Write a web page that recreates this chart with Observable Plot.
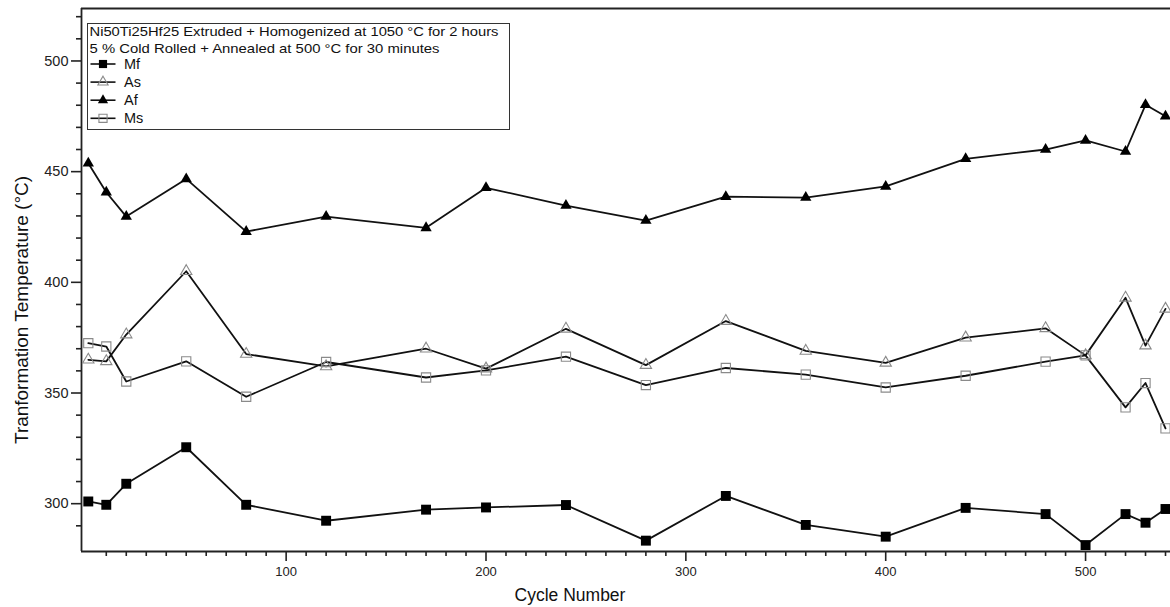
<!DOCTYPE html>
<html><head><meta charset="utf-8">
<script src="https://cdn.jsdelivr.net/npm/d3@7"></script>
<script src="https://cdn.jsdelivr.net/npm/@observablehq/plot@0.6"></script>
<style>
html,body{margin:0;padding:0;background:#fff;overflow:hidden}
svg{display:block}
</style>
</head><body><div id="chart"></div>
<script>
// ---- data ----
const cycles = [1,10,20,50,80,120,170,200,240,280,320,360,400,440,480,500,520,530,540];
const mf = [301,299.5,309,325.5,299.5,292.3,297.3,298.3,299.4,283.3,303.5,290.4,285.1,298.1,295.3,281.3,295.3,291.4,297.6];
const as = [365,364.3,376.4,405,367.6,362,370,361,379,362.6,382.5,369,363.6,375,379.2,367,393,371.4,388];
const af = [453.8,440.7,429.7,446.7,422.9,429.7,424.6,442.7,434.7,427.9,438.7,438.3,443.3,455.8,460,464.1,459.1,480.2,475];
const ms = [372.5,371,355.2,364.3,348.3,364,357,360.2,366.4,353.6,361.3,358.3,352.5,357.8,364.2,367,343.5,354.5,334];
const seriesNames = ["Mf","As","Af","Ms"];
const titleLines = ["Ni50Ti25Hf25 Extruded + Homogenized at 1050 °C for 2 hours",
                    "5 % Cold Rolled + Annealed at 500 °C for 30 minutes"];
const xMajor = [100,200,300,400,500];
const xMinor = d3.range(10,541,10).filter(v => v % 100 !== 0);
const yMajor = [300,350,400,450,500];
const yMinor = d3.range(290,521,10).filter(v => v % 50 !== 0);
const xLabel = "Cycle Number";
const yLabel = "Tranformation Temperature (°C)";

const xDomain = [-2.4, 542.5];
const yDomain = [278.4, 523.7];

const table = (vals, name) => cycles.map((c,i) => ({cycle:c, t:vals[i], s:name}));
const dMf = table(mf,"Mf"), dAs = table(as,"As"), dAf = table(af,"Af"), dMs = table(ms,"Ms");

const FONT = "Liberation Sans, Arial, Helvetica, sans-serif";
const lineOpts = {x:"cycle", y:"t", stroke:"#111", strokeWidth:1.8, clip:true};

const plot = Plot.plot({
  width: 1170, height: 607,
  marginLeft: 81, marginRight: 0, marginTop: 8, marginBottom: 56,
  x: {domain: xDomain},
  y: {domain: yDomain},
  style: {fontFamily: FONT, background: "#fff", color: "#222"},
  marks: [
    Plot.axisX({ticks: xMajor, tickSize: 10, tickPadding: 5, label: null, strokeWidth: 1.6}),
    Plot.axisX({ticks: xMinor, tickSize: 5, text: null, label: null, strokeWidth: 1.6}),
    Plot.axisY({ticks: yMajor, tickSize: 10, tickPadding: 3, label: null, strokeWidth: 1.6}),
    Plot.axisY({ticks: yMinor, tickSize: 5, text: null, label: null, strokeWidth: 1.6}),
    Plot.ruleX([xDomain[0]], {stroke:"#222", strokeWidth:1.8}),
    Plot.ruleY([yDomain[0]], {stroke:"#222", strokeWidth:1.8}),
    Plot.ruleY([yDomain[1]], {stroke:"#222", strokeWidth:1.8}),
    Plot.line(dAf, lineOpts),
    Plot.line(dAs, lineOpts),
    Plot.line(dMs, lineOpts),
    Plot.line(dMf, lineOpts),
    Plot.dot(dAs, {x:"cycle", y:"t", symbol:"triangle", r:4.2, fill:"none", stroke:"#8a8a8a", strokeWidth:1.1}),
    Plot.dot(dMs, {x:"cycle", y:"t", symbol:"square", r:5.2, fill:"none", stroke:"#8a8a8a", strokeWidth:1.1}),
    Plot.dot(dAf, {x:"cycle", y:"t", symbol:"triangle", r:4.2, fill:"#000", stroke:"none"}),
    Plot.dot(dMf, {x:"cycle", y:"t", symbol:"square", r:5.6, fill:"#000", stroke:"none"})
  ]
});
document.getElementById("chart").appendChild(plot);

const svg = d3.select(plot);
// tick label sizes (all texts Plot produced are tick labels here)
svg.selectAll("text").each(function() {
  const anchor = this.getAttribute("text-anchor") ||
    (this.parentNode && this.parentNode.getAttribute && this.parentNode.getAttribute("text-anchor"));
  const isY = anchor === "end";
  this.style.fontSize = isY ? "14.5px" : "13px";
  this.style.fill = "#222";
});

// ---- axis titles and legend box ----
svg.append("text").attr("x", 570).attr("y", 601).attr("text-anchor","middle")
  .attr("font-size", 17.5).attr("font-family", FONT).attr("fill","#111").text(xLabel);
svg.append("text").attr("transform","translate(28,310) rotate(-90)").attr("text-anchor","middle")
  .attr("font-size", 17.5).attr("font-family", FONT).attr("fill","#111")
  .attr("textLength", 268).attr("lengthAdjust","spacingAndGlyphs").text(yLabel);

const lg = svg.append("g").attr("font-family", FONT).attr("font-size", 13.2)
  .attr("fill","#111").attr("text-anchor","start");
lg.append("rect").attr("x",87.5).attr("y",23.5).attr("width",422).attr("height",106)
  .attr("fill","#fff").attr("stroke","#333").attr("stroke-width",1);
const titleWidths = [409, 350];
titleLines.forEach((t,i) => lg.append("text").attr("text-anchor","start")
  .attr("x",89.5).attr("y",36 + i*17)
  .attr("textLength", titleWidths[i]).attr("lengthAdjust","spacingAndGlyphs").text(t));
const legendStyle = {
  Mf: {type: d3.symbolSquare, r:4.6, fill:"#000", stroke:"none"},
  As: {type: d3.symbolTriangle, r:3.8, fill:"none", stroke:"#8a8a8a"},
  Af: {type: d3.symbolTriangle, r:3.8, fill:"#000", stroke:"none"},
  Ms: {type: d3.symbolSquare, r:4.6, fill:"none", stroke:"#8a8a8a"}
};
seriesNames.forEach((n,i) => {
  const cy = 64 + i*18.1;
  lg.append("line").attr("x1",90.5).attr("x2",115.5).attr("y1",cy).attr("y2",cy)
    .attr("stroke","#111").attr("stroke-width",1.6);
  const st = legendStyle[n];
  lg.append("path").attr("transform",`translate(103,${cy})`)
    .attr("d", d3.symbol(st.type, Math.PI*st.r*st.r)())
    .attr("fill", st.fill).attr("stroke", st.stroke).attr("stroke-width",1.1);
  lg.append("text").attr("text-anchor","start").attr("x",124).attr("y",cy+4.8)
    .attr("font-size",14.5).text(n);
});
</script>
</body></html>
